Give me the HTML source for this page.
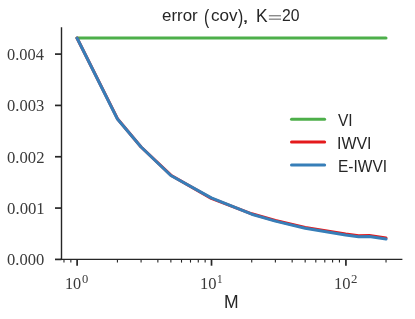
<!DOCTYPE html>
<html><head><meta charset="utf-8"><style>
html,body{margin:0;padding:0;background:#fff;}
body{width:415px;height:319px;position:relative;overflow:hidden;font-family:"Liberation Sans",sans-serif;color:#262626;}
svg{position:absolute;left:0;top:0;}
.t{position:absolute;white-space:nowrap;line-height:1;transform-origin:0 0;}
#txt{position:absolute;left:0;top:0;width:415px;height:319px;will-change:transform;}
.s{font-family:"Liberation Sans",sans-serif;}
.r{font-family:"Liberation Serif",serif;}
</style></head><body>
<svg width="415" height="319" viewBox="0 0 415 319">
<path d="M77.00,38.00 L386.03,38.00" stroke="#4daf4a" stroke-width="3" fill="none" stroke-linecap="round" stroke-linejoin="round"/>
<path d="M77.00,38.00 L117.43,118.70 L141.08,147.00 L170.87,175.20 L211.30,198.40 L251.73,213.80 L275.38,220.50 L305.17,227.50 L345.60,234.05 L358.62,235.75 L369.25,235.45 L386.03,237.95" stroke="#e41a1c" stroke-width="3" fill="none" stroke-linecap="round" stroke-linejoin="round"/>
<path d="M77.00,38.00 L117.43,119.00 L141.08,147.00 L170.87,175.50 L211.30,197.90 L251.73,214.20 L275.38,221.10 L305.17,228.30 L345.60,235.10 L358.62,236.80 L369.25,236.50 L386.03,239.00" stroke="#377eb8" stroke-width="3" fill="none" stroke-linecap="round" stroke-linejoin="round"/>
<path d="M61.5,28.0 V259.4 M60.9,259.4 H401.7" stroke="#262626" stroke-width="1.4" fill="none" stroke-linecap="square"/>
<path d="M55,259.40 H61.5" stroke="#262626" stroke-width="1.7"/>
<path d="M55,208.07 H61.5" stroke="#262626" stroke-width="1.7"/>
<path d="M55,156.75 H61.5" stroke="#262626" stroke-width="1.7"/>
<path d="M55,105.42 H61.5" stroke="#262626" stroke-width="1.7"/>
<path d="M55,54.10 H61.5" stroke="#262626" stroke-width="1.7"/>
<path d="M77.12,259.4 V265.7" stroke="#262626" stroke-width="1.7"/>
<path d="M211.52,259.4 V265.7" stroke="#262626" stroke-width="1.7"/>
<path d="M345.92,259.4 V265.7" stroke="#262626" stroke-width="1.7"/>
<path d="M63.98,259.4 V262.6" stroke="#262626" stroke-width="1.1"/>
<path d="M70.85,259.4 V262.6" stroke="#262626" stroke-width="1.1"/>
<path d="M117.43,259.4 V262.6" stroke="#262626" stroke-width="1.1"/>
<path d="M141.08,259.4 V262.6" stroke="#262626" stroke-width="1.1"/>
<path d="M157.86,259.4 V262.6" stroke="#262626" stroke-width="1.1"/>
<path d="M170.87,259.4 V262.6" stroke="#262626" stroke-width="1.1"/>
<path d="M181.51,259.4 V262.6" stroke="#262626" stroke-width="1.1"/>
<path d="M190.50,259.4 V262.6" stroke="#262626" stroke-width="1.1"/>
<path d="M198.28,259.4 V262.6" stroke="#262626" stroke-width="1.1"/>
<path d="M205.15,259.4 V262.6" stroke="#262626" stroke-width="1.1"/>
<path d="M251.73,259.4 V262.6" stroke="#262626" stroke-width="1.1"/>
<path d="M275.38,259.4 V262.6" stroke="#262626" stroke-width="1.1"/>
<path d="M292.16,259.4 V262.6" stroke="#262626" stroke-width="1.1"/>
<path d="M305.17,259.4 V262.6" stroke="#262626" stroke-width="1.1"/>
<path d="M315.81,259.4 V262.6" stroke="#262626" stroke-width="1.1"/>
<path d="M324.80,259.4 V262.6" stroke="#262626" stroke-width="1.1"/>
<path d="M332.58,259.4 V262.6" stroke="#262626" stroke-width="1.1"/>
<path d="M339.45,259.4 V262.6" stroke="#262626" stroke-width="1.1"/>
<path d="M386.03,259.4 V262.6" stroke="#262626" stroke-width="1.1"/>
<path d="M291.5,119.2 H324.6" stroke="#4daf4a" stroke-width="3" stroke-linecap="round"/>
<path d="M291.5,142.1 H324.6" stroke="#e41a1c" stroke-width="3" stroke-linecap="round"/>
<path d="M291.5,164.95 H324.6" stroke="#377eb8" stroke-width="3" stroke-linecap="round"/>
<path d="M268.9,15.8 H281.0 M268.9,19.15 H281.0" stroke="#262626" stroke-width="0.75"/>
</svg>
<div id="txt">
<div class="t s" style="left:161.73px;top:8.38px;font-size:16.55px;color:#262626;transform:scaleX(1.0244)">error</div>
<div class="t s" style="left:204.30px;top:8.20px;font-size:19.54px;color:#262626;transform:scaleX(0.8000)">(</div>
<div class="t s" style="left:210.73px;top:8.48px;font-size:16.74px;color:#262626;transform:scaleX(1.0218)">cov</div>
<div class="t s" style="left:238.40px;top:8.20px;font-size:19.54px;color:#262626;transform:scaleX(0.8000)">)</div>
<div class="t s" style="left:242.30px;top:8.48px;font-size:17.0px;color:#262626;transform:scaleX(1.4769)">,</div>
<div class="t s" style="left:255.50px;top:6.50px;font-size:18.76px;color:#262626;transform:scaleX(0.9302)">K</div>
<div class="t s" style="left:281.99px;top:7.38px;font-size:16.99px;color:#262626;transform:scaleX(0.9266)">20</div>
<div class="t s" style="left:224.11px;top:293.70px;font-size:17.6px;color:#262626;transform:scaleX(0.9957)">M</div>
<div class="t s" style="left:337.88px;top:113.00px;font-size:16.0px;color:#262626;transform:scaleX(0.9704)">VI</div>
<div class="t s" style="left:337.41px;top:136.00px;font-size:16.0px;color:#262626;transform:scaleX(0.9960)">IWVI</div>
<div class="t s" style="left:337.77px;top:159.00px;font-size:16.0px;color:#262626;transform:scaleX(0.9675)">E-IWVI</div>
<div class="t r" style="left:7.08px;top:252.45px;font-size:16.74px;color:#3a3a3a;transform:scaleX(0.9897)">0.000</div>
<div class="t r" style="left:7.08px;top:201.12px;font-size:16.74px;color:#3a3a3a;transform:scaleX(1.0000)">0.001</div>
<div class="t r" style="left:7.08px;top:149.80px;font-size:16.74px;color:#3a3a3a;transform:scaleX(0.9965)">0.002</div>
<div class="t r" style="left:7.08px;top:98.47px;font-size:16.74px;color:#3a3a3a;transform:scaleX(0.9897)">0.003</div>
<div class="t r" style="left:7.09px;top:47.15px;font-size:16.74px;color:#3a3a3a;transform:scaleX(0.9796)">0.004</div>
<div class="t r" style="left:65.45px;top:275.88px;font-size:16.75px;color:#3a3a3a;transform:scaleX(0.9675)">10</div>
<div class="t r" style="left:81.78px;top:272.88px;font-size:12.11px;color:#3a3a3a;transform:scaleX(1.0341)">0</div>
<div class="t r" style="left:200.12px;top:275.88px;font-size:16.75px;color:#3a3a3a;transform:scaleX(0.9880)">10</div>
<div class="t r" style="left:216.53px;top:273.00px;font-size:12.34px;color:#3a3a3a;transform:scaleX(0.9059)">1</div>
<div class="t r" style="left:334.12px;top:275.88px;font-size:16.75px;color:#3a3a3a;transform:scaleX(0.9880)">10</div>
<div class="t r" style="left:350.53px;top:273.00px;font-size:12.23px;color:#3a3a3a;transform:scaleX(1.0500)">2</div>
</div>
</body></html>
